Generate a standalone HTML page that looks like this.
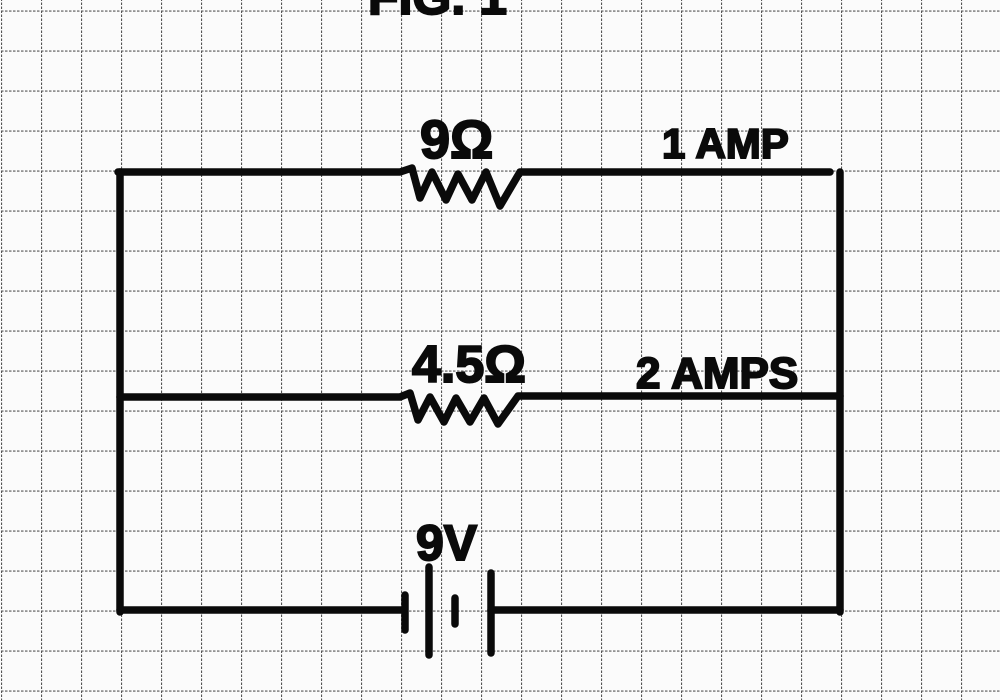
<!DOCTYPE html>
<html><head><style>
html,body{margin:0;padding:0;background:#fbfbfb;}
svg{display:block}
text{font-family:"Liberation Sans",sans-serif;font-weight:bold;fill:#0a0a0a;stroke:#0a0a0a;stroke-width:2}
</style></head><body>
<svg width="1000" height="700" viewBox="0 0 1000 700" xmlns="http://www.w3.org/2000/svg">
<defs>
<pattern id="g" width="40" height="40" patternUnits="userSpaceOnUse" x="1" y="10.5">
<path d="M0 0H40M0 0V40" stroke="#555" stroke-width="2.2" stroke-dasharray="2.5 1.5" fill="none"/>
</pattern>
</defs>
<rect width="1000" height="700" fill="#fbfbfb"/>
<rect width="1000" height="700" fill="url(#g)"/>
<g stroke="#0a0a0a" stroke-width="7.5" fill="none" stroke-linecap="round" stroke-linejoin="round">
<path d="M118 172H400 L412 168 L420 198 L432 172 L446 200 L458 174 L472 200 L486 172 L500 206 L520 172 H830"/>
<path d="M120 172V612"/>
<path d="M840 172V612"/>
<path d="M120 397H400 L410 393 L418 420 L430 397 L444 422 L456 398 L470 422 L484 398 L498 424 L518 396 H840"/>
<path d="M120 610H402"/>
<path d="M405 595V630"/>
<path d="M429 567V655"/>
<path d="M455 598V624"/>
<path d="M491 573V653"/>
<path d="M491 610H840"/>
</g>
<text x="420" y="158" font-size="54">9Ω</text>
<text x="662" y="158" font-size="42">1 AMP</text>
<text x="412" y="382" font-size="52">4.5Ω</text>
<text x="636" y="388" font-size="44">2 AMPS</text>
<text x="416" y="560" font-size="50">9V</text>
<text x="368" y="14" font-size="50">FIG. 1</text>
</svg>
</body></html>
